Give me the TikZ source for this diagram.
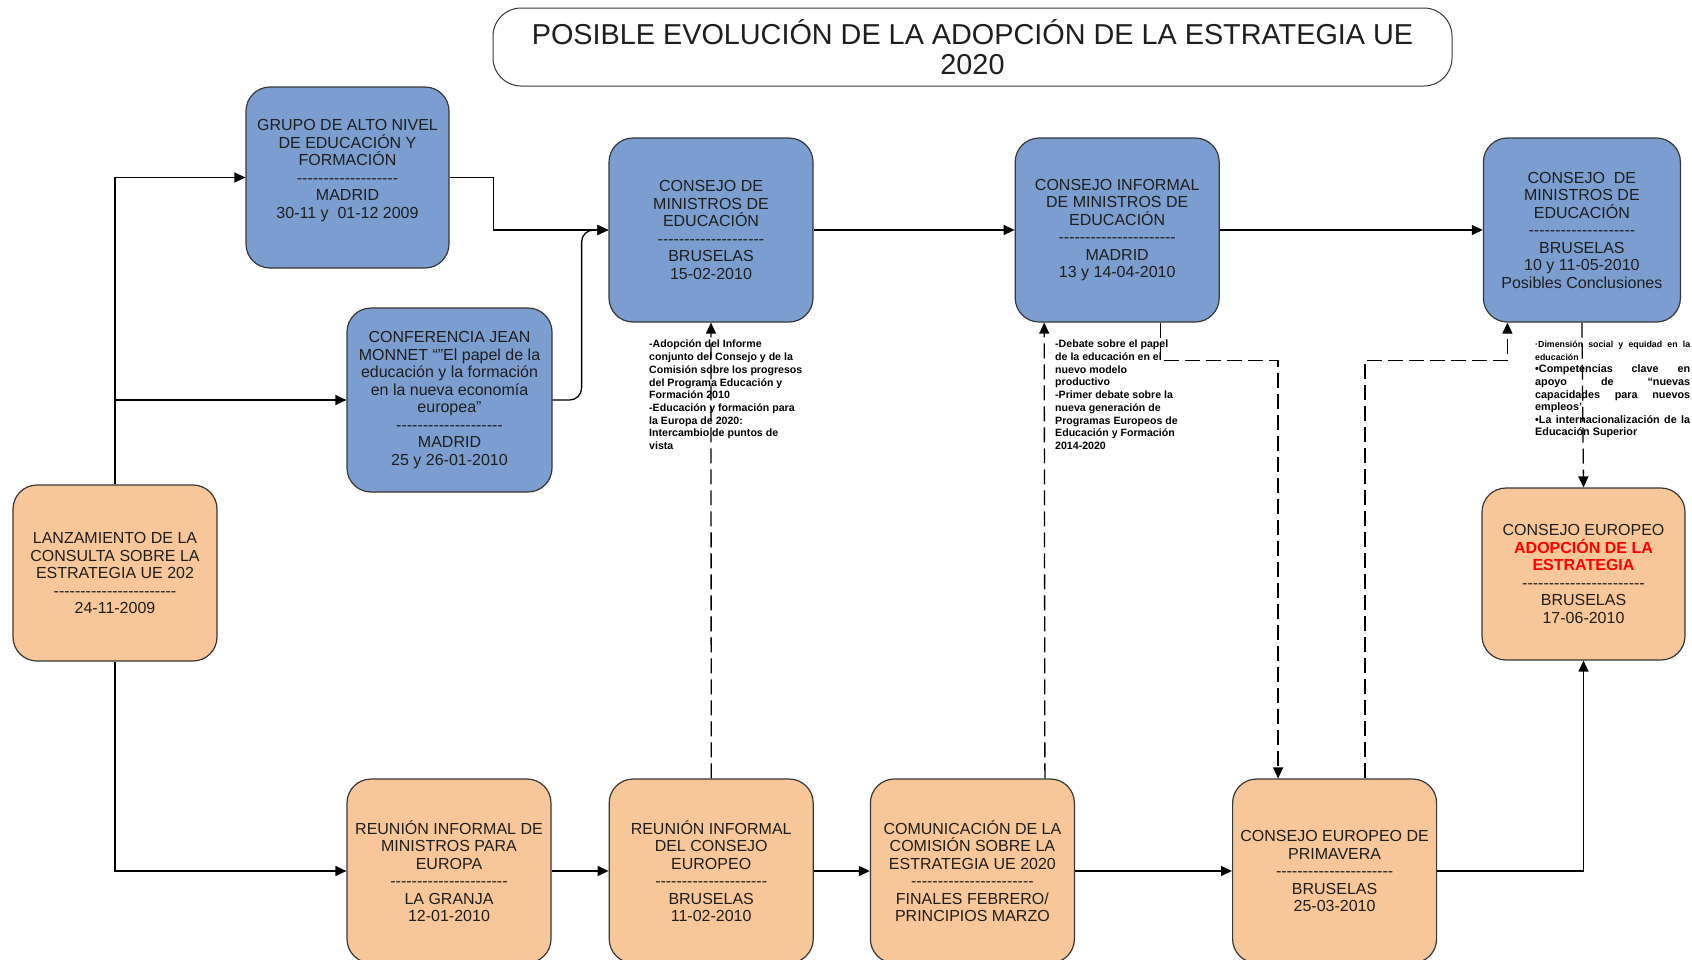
\documentclass[tikz,border=0pt]{standalone}
\usepackage{fontspec}
\setmainfont{Liberation Sans}
\usetikzlibrary{positioning,arrows.meta}
\usepackage{xcolor}

\definecolor{boxblue}{RGB}{124,157,207}
\definecolor{boxorange}{RGB}{248,199,153}
\definecolor{boxline}{RGB}{55,55,55}
\definecolor{txtgray}{RGB}{30,30,30}
\newcommand\sepline[1]{\foreach \k in {1,...,#1}{-}}

\begin{document}
\begin{tikzpicture}[x=1pt, y=-1pt,
    box/.style={rectangle, rounded corners=24pt, draw=boxline, line width=1.2pt, minimum width=204pt, minimum height=184pt, align=center, text=txtgray, font=\fontsize{16}{17.5}\selectfont, inner sep=2pt},
    bluebox/.style={box, fill=boxblue},
    orangebox/.style={box, fill=boxorange},
    note/.style={anchor=north west, align=left, inner sep=0pt, font=\fontsize{10.6}{12.7}\selectfont\bfseries},
    arrow/.style={-{Triangle[length=11pt,width=10pt]}, line width=1.3pt},
    dasharrow/.style={arrow, dash pattern=on 15pt off 6pt}
]
    \useasboundingbox (0,0) rectangle (1692,959);
    \clip (0,0) rectangle (1692,959);

    \node[draw=boxline, line width=1pt, rounded corners=28pt, minimum width=959pt, minimum height=78pt, align=center, text=txtgray, font=\fontsize{28.8}{30}\selectfont] (title) at (972.5,47) {POSIBLE EVOLUCIÓN DE LA ADOPCIÓN DE LA ESTRATEGIA UE\\2020};

    % upper row
    \node[orangebox, minimum height=176pt] (lanz) at (115,573) {LANZAMIENTO DE LA\\CONSULTA SOBRE LA\\ESTRATEGIA UE 202\\\sepline{23}\\24-11-2009};
    \node[bluebox, minimum width=203pt, minimum height=181pt] (grupo) at (347.5,177.5) {GRUPO DE ALTO NIVEL\\DE EDUCACIÓN Y\\FORMACIÓN\\\sepline{19}\\MADRID\\30-11 y~ 01-12 2009\\\mbox{}};
    \node[bluebox, minimum width=205pt] (conf) at (449.5,400) {CONFERENCIA JEAN\\MONNET “"El papel de la\\educación y la formación\\en la nueva economía\\europea”\\\sepline{20}\\MADRID\\25 y 26-01-2010};
    \node[bluebox] (cme1) at (711,230) {CONSEJO DE\\MINISTROS DE\\EDUCACIÓN\\\sepline{20}\\BRUSELAS\\15-02-2010};
    \node[bluebox, right=201pt of cme1] (inf) {CONSEJO INFORMAL\\DE MINISTROS DE\\EDUCACIÓN\\\sepline{22}\\MADRID\\13 y 14-04-2010};
    \node[bluebox, minimum width=197pt, right=263pt of inf] (cme3) {CONSEJO~ DE\\MINISTROS DE\\EDUCACIÓN\\\sepline{20}\\BRUSELAS\\10 y 11-05-2010\\Posibles Conclusiones};
    \node[orangebox, minimum width=203pt, minimum height=172pt] (ce) at (1583.5,574) {CONSEJO EUROPEO\\{\color{red}\bfseries ADOPCIÓN DE LA}\\{\color{red}\bfseries ESTRATEGIA}\\\sepline{23}\\BRUSELAS\\17-06-2010};

    % lower row
    \node[orangebox] (rim) at (449,871) {REUNIÓN INFORMAL DE\\MINISTROS PARA\\EUROPA\\\sepline{22}\\LA GRANJA\\12-01-2010};
    \node[orangebox, right=57pt of rim] (ric) {REUNIÓN INFORMAL\\DEL CONSEJO\\EUROPEO\\\sepline{21}\\BRUSELAS\\11-02-2010};
    \node[orangebox, right=56pt of ric] (com) {COMUNICACIÓN DE LA\\COMISIÓN SOBRE LA\\ESTRATEGIA UE 2020\\\sepline{23}\\FINALES FEBRERO/\\PRINCIPIOS MARZO};
    \node[orangebox, right=157pt of com] (prim) {CONSEJO EUROPEO DE\\PRIMAVERA\\\sepline{22}\\BRUSELAS\\25-03-2010};

    % notes
    \node[note] (n1) at (649,340) {-Adopción del Informe\\conjunto del Consejo y de la\\Comisión sobre los progresos\\del Programa Educación y\\Formación 2010\\-Educación y formación para\\la Europa de 2020:\\Intercambio de puntos de\\vista};
    \node[note] (n2) at (1055,340) {-Debate sobre el papel\\de la educación en el\\nuevo modelo\\productivo\\-Primer debate sobre la\\nueva generación de\\Programas Europeos de\\Educación y Formación\\2014-2020};
    \node[note, font=\fontsize{10.8}{12.6}\selectfont\bfseries] (n3) at (1535,341) {{\fontsize{8.8}{11.5}\selectfont\makebox[155pt][s]{·Dimensión social y equidad en la}}\\{\fontsize{8.8}{11.5}\selectfont educación}\\\makebox[155pt][s]{•Competencias clave en}\\\makebox[155pt][s]{apoyo de “nuevas}\\\makebox[155pt][s]{capacidades para nuevos}\\empleos'\\\makebox[155pt][s]{•La internacionalización de la}\\Educación Superior};

    % solid connectors
    \draw[arrow] (lanz.north) |- (grupo.west);
    \draw[arrow] (lanz.north) |- (conf.west);
    \draw[arrow] (lanz.south) |- (rim.west);
    \draw[arrow] (grupo.east) -- ++(44,0) |- (cme1.west);
    \draw[arrow, rounded corners=12pt] (conf.east) -- ++(29,0) |- (cme1.west);
    \draw[arrow] (cme1) -- (inf);
    \draw[arrow] (inf) -- (cme3);
    \draw[arrow] (rim) -- (ric);
    \draw[arrow] (ric) -- (com);
    \draw[arrow] (com) -- (prim);
    \draw[arrow] (prim.east) -| (ce.south);

    % dashed connectors
    \draw[dasharrow] (ric.north) -- (cme1.south);
    \draw[dasharrow] ([xshift=72.5pt]com.north) -- ([xshift=-73pt]inf.south);
    \draw[dasharrow] ([xshift=43pt]inf.south) -- ++(0,38) -| ([xshift=-56.5pt]prim.north);
    \draw[dasharrow] ([xshift=30.5pt]prim.north) |- ([xshift=-74.5pt,yshift=-38pt]cme3.south) -- ([xshift=-74.5pt]cme3.south);
    \draw[dasharrow] (cme3.south) -- (ce.north);
\end{tikzpicture}
\end{document}
